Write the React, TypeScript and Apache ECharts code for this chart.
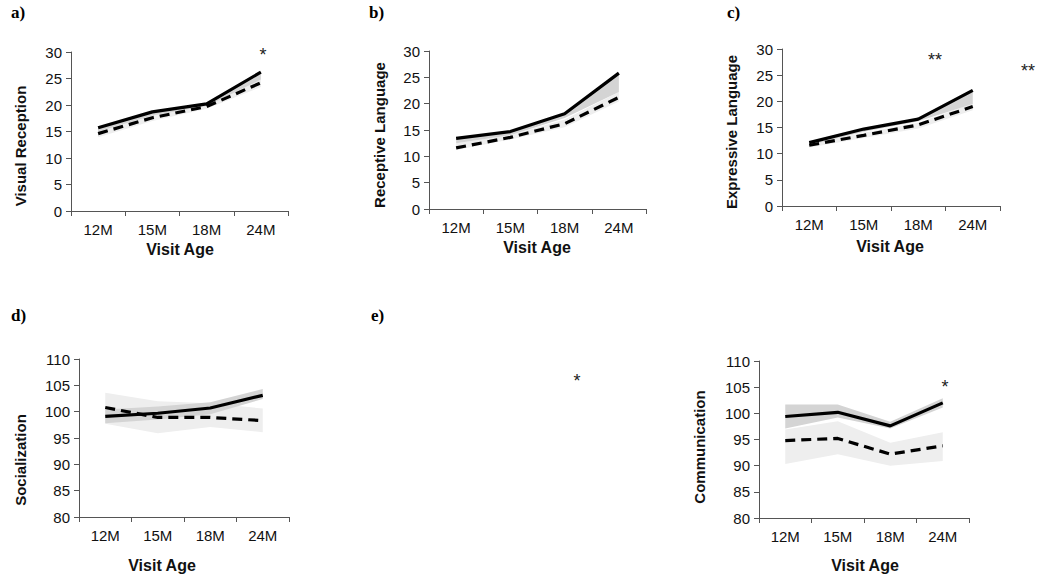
import React, { useEffect, useRef } from "react";
import * as echarts from "echarts";

const categories = ["12M", "15M", "18M", "24M"];

// Panel a: Visual Reception
const aSolid = [15.7, 18.7, 20.2, 26.2];
const aDashed = [14.6, 17.6, 19.7, 24.2];
const aSolidLo = [15.0, 18.0, 19.8, 24.8];
const aSolidHi = [15.7, 18.7, 20.2, 26.2];
const aDashLo = [13.9, 17.0, 19.3, 23.4];
const aDashHi = [15.2, 18.2, 20.0, 25.0];

// Panel b: Receptive Language
const bSolid = [13.4, 14.7, 18.1, 25.8];
const bDashed = [11.6, 13.6, 16.2, 21.2];
const bSolidLo = [12.5, 14.0, 17.3, 22.2];
const bSolidHi = [13.4, 14.7, 18.1, 25.8];
const bDashLo = [11.2, 13.2, 15.5, 20.4];
const bDashHi = [12.5, 14.0, 17.0, 22.2];

// Panel c: Expressive Language
const cSolid = [12.1, 14.7, 16.6, 22.1];
const cDashed = [11.6, 13.5, 15.5, 19.0];
const cSolidLo = [11.6, 14.2, 16.2, 19.5];
const cSolidHi = [12.3, 14.8, 16.7, 22.2];
const cDashLo = [11.2, 13.0, 14.8, 18.3];
const cDashHi = [11.8, 14.0, 15.9, 19.6];

// Panel d: Socialization
const dSolid = [99.1, 99.7, 100.7, 103.1];
const dDashed = [100.8, 98.9, 98.9, 98.3];
const dSolidLo = [97.8, 98.5, 99.5, 102.4];
const dSolidHi = [100.4, 101.0, 101.8, 104.3];
const dDashLo = [97.7, 95.9, 97.1, 96.1];
const dDashHi = [103.6, 102.0, 101.6, 100.6];

// Panel e: Communication
const eSolid = [99.4, 100.2, 97.6, 102.0];
const eDashed = [94.8, 95.2, 92.2, 93.8];
const eSolidLo = [97.1, 99.2, 97.1, 101.1];
const eSolidHi = [101.7, 101.7, 98.4, 102.9];
const eDashLo = [90.3, 92.2, 90.0, 90.9];
const eDashHi = [96.9, 98.5, 94.4, 96.4];

const yMinA = [0, 0, 0, 80, 80];
const yMaxA = [30, 30, 30, 110, 110];
const yNames = ["Visual Reception", "Receptive Language", "Expressive Language", "Socialization", "Communication"];

const panels = [
  { solid: aSolid, dashed: aDashed, sLo: aSolidLo, sHi: aSolidHi, dLo: aDashLo, dHi: aDashHi },
  { solid: bSolid, dashed: bDashed, sLo: bSolidLo, sHi: bSolidHi, dLo: bDashLo, dHi: bDashHi },
  { solid: cSolid, dashed: cDashed, sLo: cSolidLo, sHi: cSolidHi, dLo: cDashLo, dHi: cDashHi },
  { solid: dSolid, dashed: dDashed, sLo: dSolidLo, sHi: dSolidHi, dLo: dDashLo, dHi: dDashHi },
  { solid: eSolid, dashed: eDashed, sLo: eSolidLo, sHi: eSolidHi, dLo: eDashLo, dHi: eDashHi },
];

// layout (pixels)
const grids = [
  { left: 71, top: 52, width: 217, height: 159 },
  { left: 429, top: 51, width: 217, height: 158 },
  { left: 782, top: 49, width: 218, height: 157 },
  { left: 79, top: 359, width: 210, height: 158 },
  { left: 759, top: 361, width: 210, height: 157 },
];
const yNamePos = [
  [20, 146],
  [379, 135],
  [731, 132],
  [20, 460],
  [699, 447],
];
const xNamePos = [
  [180, 249],
  [537, 247],
  [890, 246],
  [162, 565],
  [865, 565],
];

const FONT = "Arimo, 'Liberation Sans', Arial, sans-serif";
const SERIF = "'Liberation Serif', 'Times New Roman', serif";

export default function App() {
  const ref = useRef<HTMLDivElement>(null);
  useEffect(() => {
    if (!ref.current) return;
    const chart = echarts.init(ref.current, undefined, { renderer: "svg" });
    const series: any[] = [];
    panels.forEach((p, i) => {
      const common = {
        type: "line",
        xAxisIndex: i,
        yAxisIndex: i,
        symbol: "none",
        silent: true,
      };
      series.push({
        ...common,
        stack: "L" + i,
        data: p.dLo,
        lineStyle: { width: 0 },
        z: 1,
      });
      series.push({
        ...common,
        stack: "L" + i,
        data: p.dHi.map((v, k) => +(v - p.dLo[k]).toFixed(2)),
        lineStyle: { width: 0 },
        areaStyle: { color: "#eeeeee", opacity: 1 },
        z: 2,
      });
      series.push({
        ...common,
        stack: "D" + i,
        data: p.sLo,
        lineStyle: { width: 0 },
        z: 3,
      });
      series.push({
        ...common,
        stack: "D" + i,
        data: p.sHi.map((v, k) => +(v - p.sLo[k]).toFixed(2)),
        lineStyle: { width: 0 },
        areaStyle: { color: "#d4d4d4", opacity: 1 },
        z: 4,
      });
      series.push({
        ...common,
        data: p.dashed,
        lineStyle: { color: "#000", width: 3.2, type: [10, 6] },
        z: 5,
      });
      series.push({
        ...common,
        data: p.solid,
        lineStyle: { color: "#000", width: 3.2 },
        z: 6,
      });
    });

    const graphic: any[] = [];
    const letters = [
      ["a)", 11, 12],
      ["b)", 369, 12],
      ["c)", 727, 12],
      ["d)", 11, 315],
      ["e)", 371, 315],
    ];
    letters.forEach(([t, x, y]) => {
      graphic.push({
        type: "text",
        x: x as number,
        y: y as number,
        style: { text: t as string, font: `bold 17px ${SERIF}`, fill: "#000", textVerticalAlign: "middle" },
      });
    });
    yNames.forEach((n, i) => {
      graphic.push({
        type: "text",
        x: yNamePos[i][0],
        y: yNamePos[i][1],
        rotation: Math.PI / 2,
        style: {
          text: n,
          font: `bold 15px ${FONT}`,
          fill: "#111",
          textAlign: "center",
          textVerticalAlign: "middle",
        },
      });
    });
    xNamePos.forEach((pos) => {
      graphic.push({
        type: "text",
        x: pos[0],
        y: pos[1],
        style: {
          text: "Visit Age",
          font: `bold 16px ${FONT}`,
          fill: "#111",
          textAlign: "center",
          textVerticalAlign: "middle",
        },
      });
    });
    const stars = [
      ["*", 263, 55],
      ["**", 935, 60],
      ["**", 1028, 71],
      ["*", 577, 381],
      ["*", 945, 387],
    ];
    stars.forEach(([t, x, y]) => {
      graphic.push({
        type: "text",
        x: x as number,
        y: y as number,
        style: {
          text: t as string,
          font: `18px ${FONT}`,
          fill: "#222",
          textAlign: "center",
          textVerticalAlign: "middle",
        },
      });
    });

    chart.setOption({
      animation: false,
      backgroundColor: "#fff",
      grid: grids.map((g) => ({ ...g, containLabel: false })),
      xAxis: grids.map((_, i) => ({
        type: "category",
        gridIndex: i,
        data: categories,
        boundaryGap: true,
        axisLine: { lineStyle: { color: "#555", width: 1 } },
        axisTick: { show: true, length: 5, lineStyle: { color: "#555" } },
        axisLabel: { color: "#111", fontSize: 15, fontFamily: FONT, margin: 11 },
        splitLine: { show: false },
      })),
      yAxis: grids.map((_, i) => ({
        type: "value",
        gridIndex: i,
        min: yMinA[i],
        max: yMaxA[i],
        interval: 5,
        axisLine: { show: true, lineStyle: { color: "#555", width: 1 } },
        axisTick: { show: true, length: 5, lineStyle: { color: "#555" } },
        axisLabel: { color: "#111", fontSize: 15, fontFamily: FONT, margin: 9 },
        splitLine: { show: false },
      })),
      series,
      graphic,
    });
    return () => chart.dispose();
  }, []);
  return (
    <div
      ref={ref}
      style={{ position: "fixed", left: 0, top: 0, width: 1040, height: 576, background: "#fff" }}
    />
  );
}
